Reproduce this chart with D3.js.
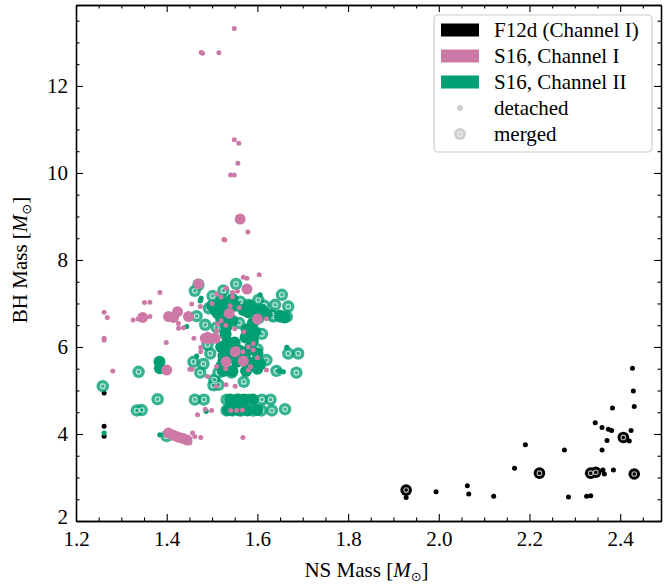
<!DOCTYPE html>
<html><head><meta charset="utf-8">
<script src="https://cdn.jsdelivr.net/npm/d3@7"></script>
<style>body{margin:0;background:#fff;} svg{display:block;} text{font-family:"Liberation Serif","DejaVu Serif",serif !important;}</style>
</head><body>
<svg id="c" width="669" height="584"></svg>
<script>
// ---------- data ----------
const xTicks = [1.2, 1.4, 1.6, 1.8, 2.0, 2.2, 2.4];
const yTicks = [2, 4, 6, 8, 10, 12];
const legendLabels = ["F12d (Channel I)", "S16, Channel I", "S16, Channel II", "detached", "merged"];

const f12dDetached = [[1.262,4.94],[1.262,4.18],[1.262,3.95],[1.928,2.54],[1.994,2.67],[2.063,2.81],[2.066,2.62],
 [2.121,2.57],[2.167,3.21],[2.191,3.75],[2.277,3.63],[2.286,2.55],[2.326,2.57],[2.335,2.58],[2.345,4.26],[2.360,4.15],
 [2.374,4.11],[2.381,4.08],[2.371,3.85],[2.360,3.63],[2.362,3.17],[2.365,3.08],[2.385,3.17],[2.383,4.60],[2.420,3.84],
 [2.424,4.08],[2.427,5.51],[2.429,4.99],[2.431,4.63]];
const f12dMerged = [[1.928,2.71],[2.222,3.10],[2.335,3.10],[2.346,3.12],[2.407,3.92],[2.431,3.08]];

const s16c2Merged = [[1.462,7.29],[1.470,7.43],[1.553,7.45],[1.501,7.17],[1.524,7.08],[1.562,7.04],[1.602,7.08],[1.654,7.20],
 [1.493,6.89],[1.580,6.97],[1.639,6.97],[1.668,6.93],[1.466,6.71],[1.602,6.66],[1.635,6.70],[1.650,6.70],[1.665,6.70],
 [1.632,6.74],[1.485,6.51],[1.576,6.24],[1.496,5.85],[1.668,5.85],[1.690,5.85],[1.459,5.66],[1.481,5.61],
 [1.338,5.43],[1.474,5.41],[1.514,5.41],[1.543,5.41],[1.642,5.45],[1.686,5.41],[1.259,5.10],[1.503,5.12],[1.514,5.13],
 [1.380,4.80],[1.462,4.79],[1.482,4.79],[1.532,4.79],[1.558,4.79],[1.580,4.79],[1.610,4.79],[1.629,4.79],
 [1.334,4.54],[1.345,4.55],[1.532,4.54],[1.545,4.54],[1.565,4.54],[1.590,4.54],[1.609,4.54],[1.632,4.54],[1.661,4.57],
 [1.400,3.95],[1.510,6.45],[1.560,6.55],[1.610,6.30],[1.490,6.05],[1.620,5.70],[1.505,5.25],[1.570,5.20],[1.615,6.95],
 [1.525,7.30],[1.600,5.95]];
const s16c2Large = [[1.507,6.85],[1.520,6.85],[1.532,6.88],[1.512,6.78],[1.530,6.75],[1.569,6.85],[1.580,6.80],[1.592,6.88],[1.599,6.82],
 [1.532,6.47],[1.530,6.30],[1.534,6.12],[1.536,6.00],[1.576,6.40],[1.574,6.22],[1.530,5.90],[1.545,5.88],[1.560,5.92],[1.575,5.88],
 [1.540,5.78],[1.565,5.75],[1.525,5.68],[1.555,5.66],[1.585,5.64],[1.606,5.62],[1.525,5.45],[1.545,5.45],[1.575,5.45],
 [1.384,5.66],[1.385,5.51],[1.540,4.79],[1.555,4.79],[1.570,4.79],[1.545,4.55],[1.560,4.54],[1.578,4.54],[1.520,7.05],[1.545,7.10],
 [1.500,6.95],[1.550,6.95],[1.585,6.95],[1.610,6.85],[1.620,6.75],[1.600,6.70],[1.520,6.65],[1.545,6.60],[1.590,6.55],
 [1.595,6.35],[1.590,6.15],[1.585,6.00],[1.550,6.10],[1.520,6.00],[1.525,5.80],[1.600,5.85],[1.520,5.55],[1.600,5.50],
 [1.590,4.79],[1.600,4.55],[1.535,4.55],[1.650,6.72],[1.660,6.68]];
const s16c2Detached = [[1.474,7.06],[1.476,7.12],[1.606,7.20],[1.444,6.47],[1.466,5.79],[1.665,5.99],[1.657,5.43],[1.385,3.98],
 [1.262,4.02],[1.487,4.52],[1.612,5.55],[1.648,5.45]];

const s16c1Detached = [[1.549,13.32],[1.476,12.77],[1.479,12.75],[1.515,12.76],[1.549,10.76],[1.559,10.68],[1.557,10.22],
 [1.541,9.95],[1.549,9.95],[1.579,8.64],[1.528,8.46],[1.526,8.47],[1.604,7.66],[1.569,7.60],[1.577,7.58],[1.531,7.35],[1.385,7.25],
 [1.351,7.02],[1.363,7.03],[1.262,6.80],[1.269,6.68],[1.326,6.62],[1.337,6.64],[1.363,6.70],[1.426,6.54],[1.426,6.43],
 [1.437,6.44],[1.455,6.99],[1.474,6.93],[1.510,6.37],[1.399,6.10],[1.262,6.20],[1.262,6.16],[1.460,6.20],[1.591,6.08],
 [1.475,5.99],[1.475,5.89],[1.568,5.89],[1.591,5.93],[1.281,5.45],[1.451,5.49],[1.456,5.49],[1.580,5.47],[1.509,5.10],
 [1.531,5.13],[1.551,5.10],[1.485,4.57],[1.499,4.54],[1.468,4.44],[1.541,4.54],[1.554,4.54],[1.567,4.55],[1.457,4.02],
 [1.462,3.94],[1.475,3.92],[1.451,3.80],[1.568,3.92],[1.520,7.15],[1.545,7.15],[1.500,7.00],[1.540,6.95],[1.560,6.90],
 [1.520,6.60],[1.530,6.50],[1.550,6.42],[1.570,6.35],[1.490,6.30],[1.580,6.00],[1.556,5.96],[1.600,5.75],[1.510,5.55],
 [1.530,5.50],[1.585,5.55],[1.620,5.47],[1.490,5.32],[1.545,7.25],[1.556,7.28],[1.510,7.22],[1.620,6.65],[1.512,6.52]];
const s16c1Large = [[1.562,8.94],[1.470,7.45],[1.577,7.33],[1.347,6.68],[1.404,6.70],[1.424,6.81],[1.415,6.68],[1.448,6.70],
 [1.538,6.77],[1.600,6.64],[1.485,6.20],[1.495,6.20],[1.507,6.20],[1.551,5.89],[1.531,5.66],[1.569,5.68],[1.400,5.47],
 [1.404,4.02],[1.415,3.97],[1.425,3.93],[1.435,3.90],[1.445,3.86]];

// ---------- layout ----------
const colors = {black:"#000000", pink:"#CC79A7", green:"#009E73"};
const svg = d3.select("#c");
const L = 76, R = 661, T = 5, B = 521;
const x = d3.scaleLinear().domain([1.2, 2.49]).range([L, R]);
const y = d3.scaleLinear().domain([2, 13.86]).range([B, T]);
const fs = 21;
const FF = "'Liberation Serif','DejaVu Serif',serif";

svg.append("defs").append("clipPath").attr("id","clp")
  .append("rect").attr("x",L).attr("y",T).attr("width",R-L).attr("height",B-T);
const g = svg.append("g").attr("clip-path","url(#clp)");

function dots(data, color, r, op){
  g.append("g").selectAll("circle").data(data).join("circle")
    .attr("cx", d=>x(d[0])).attr("cy", d=>y(d[1])).attr("r", r)
    .attr("fill", color).attr("fill-opacity", op);
}
function merged(data, color, r, op){
  const gg = g.append("g");
  gg.selectAll("circle.o").data(data).join("circle").attr("class","o")
    .attr("cx", d=>x(d[0])).attr("cy", d=>y(d[1])).attr("r", r)
    .attr("fill", color).attr("fill-opacity", op);
  gg.selectAll("circle.i").data(data).join("circle").attr("class","i")
    .attr("cx", d=>x(d[0])).attr("cy", d=>y(d[1])).attr("r", 2.3)
    .attr("fill","none").attr("stroke","#fff").attr("stroke-opacity",0.7).attr("stroke-width",1.1);
}

// draw order: black, green, pink
dots(f12dDetached, colors.black, 2.5, 1);
merged(f12dMerged, colors.black, 5.8, 1);
merged(s16c2Merged, colors.green, 6.2, 0.78);
dots(s16c2Large, colors.green, 6.0, 1);
dots(s16c2Detached, colors.green, 2.6, 1);
dots(s16c1Large, colors.pink, 5.5, 1);
dots(s16c1Detached, colors.pink, 2.5, 1);

// ---------- axes ----------
const xMinor = d3.range(1.2, 2.491, 0.05).filter(v => !xTicks.some(t => Math.abs(t-v) < 1e-6));
const yMinor = d3.range(2, 13.86, 0.5).filter(v => !yTicks.some(t => Math.abs(t-v) < 1e-6));

function styleAxis(sel){
  sel.attr("font-family", FF);
  sel.selectAll("path.domain").attr("stroke","#000").attr("stroke-width",1.3);
  sel.selectAll(".tick line").attr("stroke","#000").attr("stroke-width",1.1);
  sel.selectAll("text").attr("font-size", fs).attr("fill","#000");
}
const ax = [
  svg.append("g").attr("transform",`translate(0,${B})`).call(d3.axisBottom(x).tickValues(xTicks).tickSize(-7).tickSizeOuter(0).tickPadding(10).tickFormat(d3.format(".1f"))),
  svg.append("g").attr("transform",`translate(0,${B})`).call(d3.axisBottom(x).tickValues(xMinor).tickSize(-3.5).tickSizeOuter(0).tickFormat("")),
  svg.append("g").attr("transform",`translate(0,${T})`).call(d3.axisTop(x).tickValues(xTicks).tickSize(-7).tickSizeOuter(0).tickFormat("")),
  svg.append("g").attr("transform",`translate(0,${T})`).call(d3.axisTop(x).tickValues(xMinor).tickSize(-3.5).tickSizeOuter(0).tickFormat("")),
  svg.append("g").attr("transform",`translate(${L},0)`).call(d3.axisLeft(y).tickValues(yTicks).tickSize(-7).tickSizeOuter(0).tickPadding(8).tickFormat(d3.format("d"))),
  svg.append("g").attr("transform",`translate(${L},0)`).call(d3.axisLeft(y).tickValues(yMinor).tickSize(-3.5).tickSizeOuter(0).tickFormat("")),
  svg.append("g").attr("transform",`translate(${R},0)`).call(d3.axisRight(y).tickValues(yTicks).tickSize(-7).tickSizeOuter(0).tickFormat("")),
  svg.append("g").attr("transform",`translate(${R},0)`).call(d3.axisRight(y).tickValues(yMinor).tickSize(-3.5).tickSizeOuter(0).tickFormat(""))
];
ax.forEach(styleAxis);
// the "2" label sits slightly above the axis corner, as in the reference
ax[4].selectAll(".tick text").filter(d => d === 2).attr("dy", "0.1em");

// axis labels
function massLabel(sel, prefix){
  sel.append("tspan").text(prefix + " [");
  sel.append("tspan").attr("font-style","italic").text("M");
  sel.append("tspan").attr("font-size", 13).attr("dy", 4).style("font-family","'DejaVu Sans',sans-serif").text("\u2299");
  sel.append("tspan").attr("dy", -4).text("]");
}
const xl = svg.append("text").attr("x", (L+R)/2 - 2).attr("y", 577).attr("text-anchor","middle").attr("font-size", fs);
massLabel(xl, "NS Mass");
const yl = svg.append("text").attr("transform",`translate(27,${(T+B)/2 - 3}) rotate(-90)`).attr("text-anchor","middle").attr("font-size", fs);
massLabel(yl, "BH Mass");

// ---------- legend ----------
const lg = svg.append("g");
lg.append("rect").attr("x",434).attr("y",15).attr("width",218).attr("height",137).attr("rx",4)
  .attr("fill","#fff").attr("fill-opacity",0.85).attr("stroke","#cccccc").attr("stroke-width",1.2);
const rowY = [30, 56, 82, 108, 134];
const patchCols = [colors.black, colors.pink, colors.green];
patchCols.forEach((c,i)=>{
  lg.append("rect").attr("x",441).attr("y",rowY[i]-6.5).attr("width",38).attr("height",13).attr("fill",c);
});
lg.append("circle").attr("cx",460).attr("cy",rowY[3]).attr("r",3).attr("fill","#cfcfcf");
lg.append("circle").attr("cx",460).attr("cy",rowY[4]).attr("r",6).attr("fill","#cfcfcf");
lg.append("circle").attr("cx",460).attr("cy",rowY[4]).attr("r",2.3).attr("fill","none").attr("stroke","#f2f2f2").attr("stroke-width",1.1);
legendLabels.forEach((t,i)=>{
  lg.append("text").attr("x",494).attr("y",rowY[i]+7).attr("font-size",fs).text(t);
});
</script>
</body></html>
